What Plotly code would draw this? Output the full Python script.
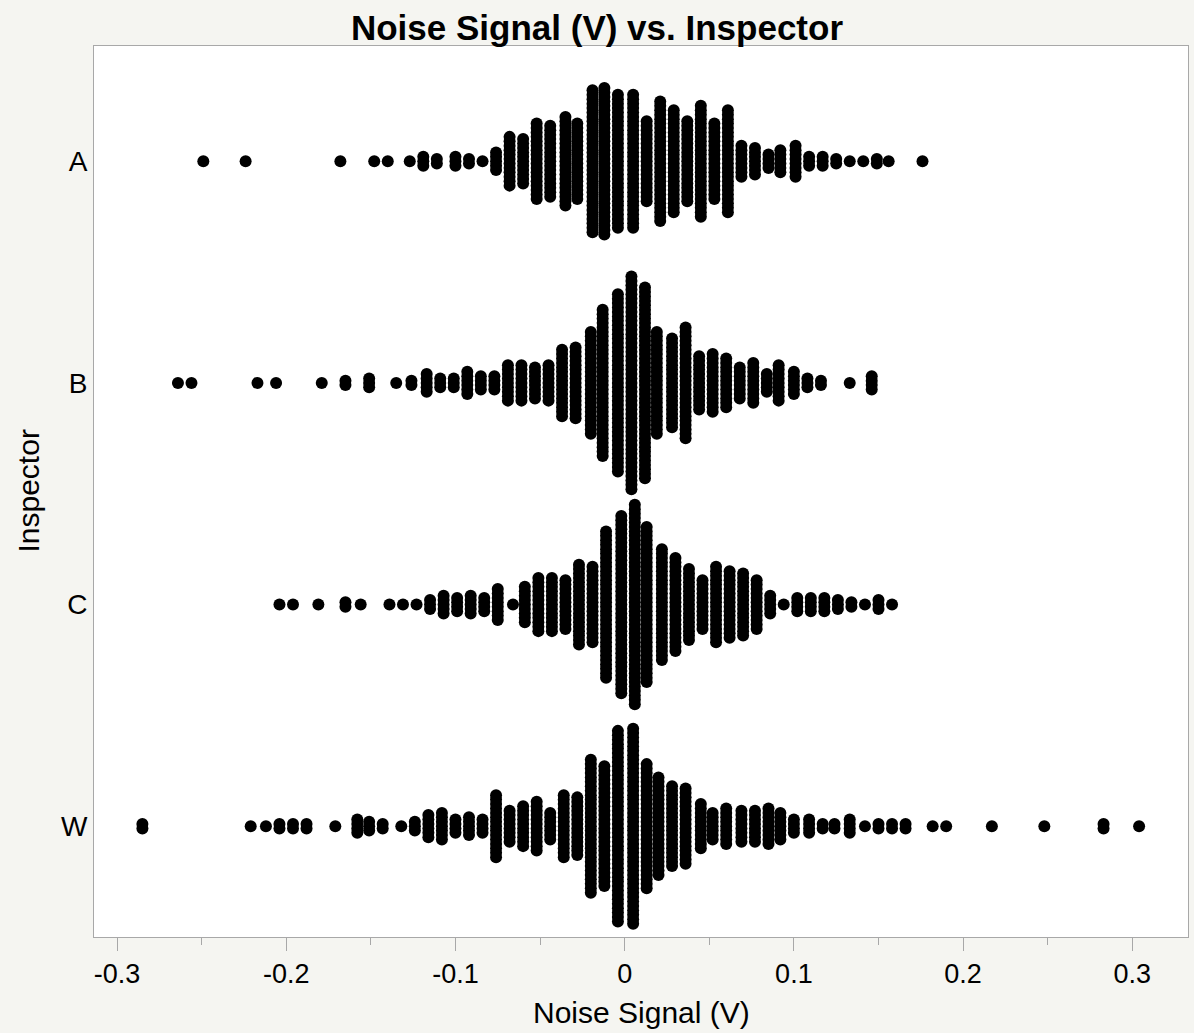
import plotly.graph_objects as go

# Inspectors (categories, top to bottom)
inspectors = ["A", "B", "C", "W"]

# Bin centres (Noise Signal, V) and number of points per bin
a_x = [-0.249, -0.224, -0.168, -0.148, -0.140, -0.127, -0.119, -0.111, -0.100, -0.092,
       -0.084, -0.076, -0.068, -0.060, -0.052, -0.044, -0.035, -0.028, -0.019, -0.012,
       -0.004, 0.005, 0.013, 0.021, 0.029, 0.037, 0.045, 0.053, 0.061, 0.069,
       0.077, 0.085, 0.092, 0.101, 0.109, 0.117, 0.125, 0.133, 0.141, 0.149,
       0.156, 0.176]
a_n = [1, 1, 1, 1, 1, 1, 3, 2, 3, 2,
       1, 5, 12, 11, 18, 17, 21, 18, 33, 34,
       31, 31, 19, 28, 24, 19, 26, 18, 24, 8,
       7, 4, 6, 8, 3, 3, 2, 1, 1, 2,
       1, 1]

b_x = [-0.264, -0.256, -0.217, -0.206, -0.179, -0.165, -0.151, -0.135, -0.126, -0.117,
       -0.109, -0.101, -0.093, -0.085, -0.077, -0.069, -0.061, -0.053, -0.045, -0.037,
       -0.029, -0.020, -0.013, -0.004, 0.004, 0.012, 0.019, 0.028, 0.036, 0.044,
       0.052, 0.060, 0.068, 0.076, 0.084, 0.091, 0.100, 0.108, 0.116, 0.133,
       0.146]
b_n = [1, 1, 1, 1, 1, 2, 3, 1, 2, 5,
       3, 3, 6, 4, 4, 9, 9, 8, 9, 16,
       17, 24, 34, 41, 49, 44, 24, 21, 26, 13,
       14, 12, 8, 10, 5, 9, 6, 3, 2, 1,
       4]

c_x = [-0.204, -0.196, -0.181, -0.165, -0.156, -0.139, -0.131, -0.123, -0.115, -0.107,
       -0.099, -0.091, -0.083, -0.075, -0.066, -0.059, -0.051, -0.043, -0.035, -0.027,
       -0.019, -0.011, -0.002, 0.006, 0.013, 0.022, 0.030, 0.038, 0.046, 0.054,
       0.062, 0.070, 0.078, 0.086, 0.094, 0.102, 0.110, 0.118, 0.126, 0.134,
       0.142, 0.150, 0.158]
c_n = [1, 1, 1, 2, 1, 1, 1, 1, 3, 5,
       4, 5, 4, 8, 1, 9, 13, 13, 12, 19,
       18, 34, 41, 46, 36, 26, 22, 17, 12, 18,
       16, 15, 12, 5, 1, 4, 4, 4, 3, 2,
       1, 3, 1]

w_x = [-0.285, -0.221, -0.212, -0.204, -0.196, -0.188, -0.171, -0.158, -0.151, -0.143,
       -0.132, -0.124, -0.116, -0.108, -0.100, -0.092, -0.084, -0.076, -0.068, -0.060,
       -0.052, -0.044, -0.036, -0.028, -0.020, -0.012, -0.004, 0.005, 0.013, 0.020,
       0.028, 0.036, 0.045, 0.052, 0.060, 0.069, 0.077, 0.085, 0.092, 0.100,
       0.109, 0.117, 0.124, 0.133, 0.142, 0.150, 0.158, 0.166, 0.182, 0.190,
       0.217, 0.248, 0.283, 0.304]
w_n = [2, 1, 1, 2, 2, 2, 1, 4, 3, 2,
       1, 3, 6, 7, 4, 5, 4, 15, 8, 10,
       12, 7, 15, 14, 31, 28, 44, 45, 29, 23,
       19, 18, 11, 7, 9, 8, 8, 9, 7, 4,
       4, 2, 2, 4, 1, 2, 2, 2, 1, 1,
       1, 1, 2, 1]

x_ticks = [-0.3, -0.2, -0.1, 0, 0.1, 0.2, 0.3]
x_tick_text = ["-0.3", "-0.2", "-0.1", "0", "0.1", "0.2", "0.3"]

groups = [(a_x, a_n), (b_x, b_n), (c_x, c_n), (w_x, w_n)]
STEP = 0.02  # vertical stacking step in category units

fig = go.Figure()
for gi, (xs, ns) in enumerate(groups):
    px, py = [], []
    for xv, n in zip(xs, ns):
        for k in range(n):
            px.append(xv)
            py.append(gi + (k - (n - 1) / 2) * STEP)
    fig.add_trace(go.Scatter(
        x=px, y=py, mode="markers",
        marker=dict(size=12, color="black", line=dict(width=0)),
        name=inspectors[gi], showlegend=False, hoverinfo="x+name",
    ))

font_fam = "Liberation Sans, Arial, sans-serif"
border = "#a8a8a8"

fig.update_layout(
    width=1194, height=1033,
    paper_bgcolor="#f5f5f1", plot_bgcolor="white",
    margin=dict(l=94, r=6, t=46, b=96),
    font=dict(family=font_fam, color="black"),
    title=dict(text="<b>Noise Signal (V) vs. Inspector</b>", x=0.5, xanchor="center",
               y=1 - 28 / 1033, yanchor="middle", yref="container",
               font=dict(size=35, family=font_fam, color="black")),
    xaxis=dict(range=[-0.3136, 0.3329], tickvals=x_ticks, ticktext=x_tick_text,
               showgrid=False, zeroline=False, showline=True, linecolor=border,
               linewidth=1, mirror=True, ticks="outside", ticklen=13, tickcolor=border,
               tickwidth=1, tickfont=dict(size=27),
               minor=dict(dtick=0.05, tick0=0, ticks="outside", ticklen=7,
                          tickcolor=border, showgrid=False)),
    yaxis=dict(range=[3.5, -0.52], tickvals=[0, 1, 2, 3], ticktext=inspectors,
               showgrid=False, zeroline=False, showline=True, linecolor=border,
               linewidth=1, mirror=True, ticks="", tickfont=dict(size=28)),
    annotations=[
        dict(text="Noise Signal (V)", x=0.5, y=-0.0842, xref="paper", yref="paper",
             xanchor="center", yanchor="middle", showarrow=False,
             font=dict(size=30)),
        dict(text="Inspector", x=-0.0603, y=0.5, xref="paper", yref="paper",
             xanchor="center", yanchor="middle", showarrow=False, textangle=-90,
             font=dict(size=30)),
    ],
)

fig.write_html("out.html", config={"displayModeBar": False},
               post_script="document.body.style.margin='0px';document.body.style.overflow='hidden';")
